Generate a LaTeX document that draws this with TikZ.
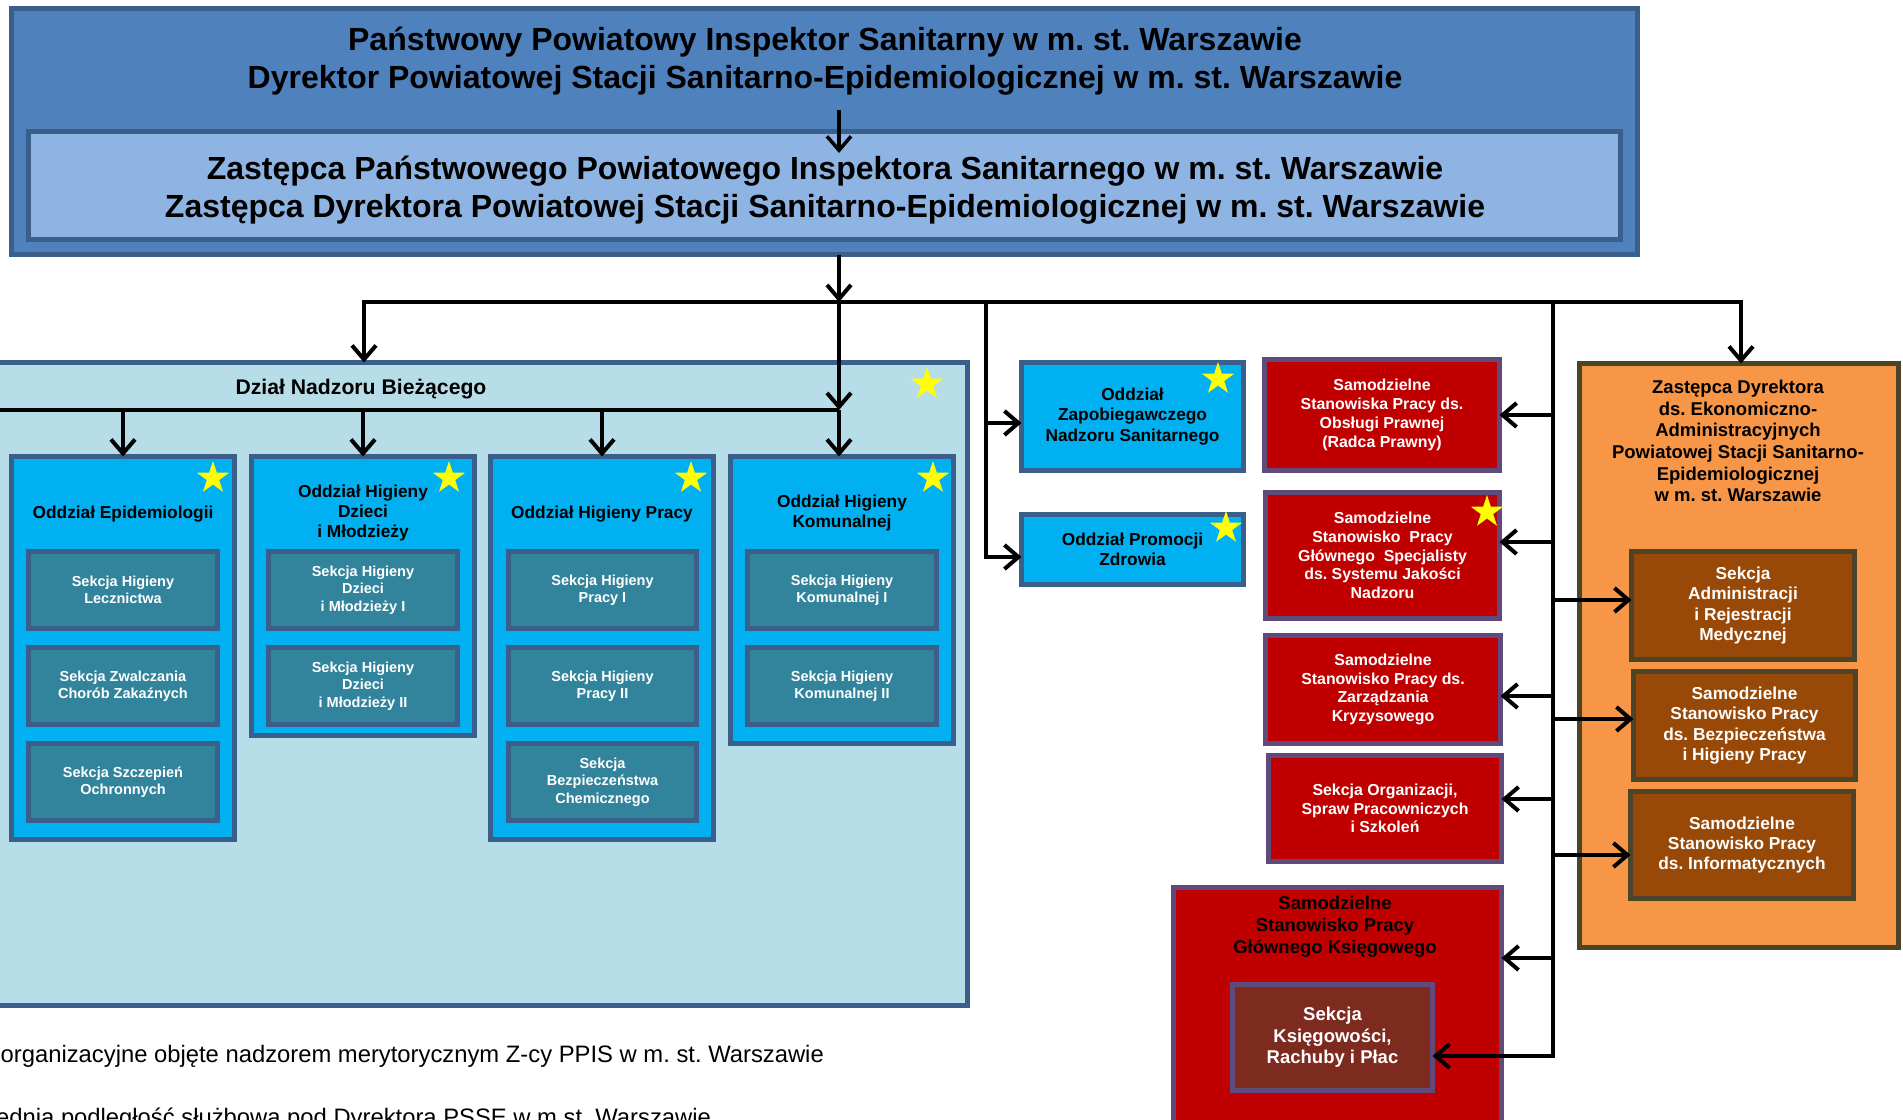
\documentclass[tikz,border=0pt]{standalone}
\usepackage{fontspec}
\setmainfont{Liberation Sans}
\usetikzlibrary{arrows.meta,shapes.geometric}
\frenchspacing
\definecolor{topblue}{HTML}{4F81BD}
\definecolor{bordblue}{HTML}{3A5F8B}
\definecolor{lightblue}{HTML}{8EB4E3}
\definecolor{dzialbg}{HTML}{B7DEE8}
\definecolor{oddblue}{HTML}{00B0F0}
\definecolor{sekteal}{HTML}{31849B}
\definecolor{redbox}{HTML}{C00000}
\definecolor{purp}{HTML}{604A7B}
\definecolor{ksbrown}{HTML}{7D2A1F}
\definecolor{orng}{HTML}{F79646}
\definecolor{olive}{HTML}{4A4429}
\definecolor{brownbx}{HTML}{984807}
\definecolor{staryel}{HTML}{FFFF00}
\newcommand\obox[7]{\node[#6, minimum width={#4-#2-5}, minimum height={#5-#3-5}] (#1) at ({(#2+#4)/2},{(#3+#5)/2}) {#7};}
\begin{document}
\frenchspacing
\begin{tikzpicture}[x=1pt,y=-1pt,
  conn/.style={line width=4pt},
  barb/.tip={Straight Barb[length=14pt,width=24pt]},
  arr/.style={conn,-barb},
  arrtwo/.style={conn,barb-barb},
  bx/.style={draw,line width=5pt,inner sep=0pt,outer sep=0pt,align=center},
  ftitle/.style={align=center,inner sep=0pt,font=\fontsize{32}{38.5}\selectfont\bfseries},
  fdz/.style={inner sep=0pt,font=\fontsize{21.2}{25}\selectfont\bfseries},
  fodd/.style={align=center,inner sep=0pt,font=\fontsize{17.3}{19.7}\selectfont\bfseries},
  oddbx/.style={bx,draw=bordblue,fill=oddblue,font=\fontsize{17.3}{20.5}\selectfont\bfseries},
  sekbx/.style={bx,draw=bordblue,fill=sekteal,text=white,font=\fontsize{14.5}{17.5}\selectfont\bfseries},
  redbx/.style={bx,draw=purp,fill=redbox,text=white,font=\fontsize{15.9}{18.8}\selectfont\bfseries},
  ksbx/.style={bx,draw=purp,fill=ksbrown,text=white,font=\fontsize{18.5}{21.5}\selectfont\bfseries},
  brbx/.style={bx,draw=olive,fill=brownbx,text=white,font=\fontsize{17.3}{20.3}\selectfont\bfseries},
  fbig/.style={align=center,inner sep=0pt,font=\fontsize{18.5}{22}\selectfont\bfseries},
  forng/.style={align=center,inner sep=0pt,font=\fontsize{18.5}{21.7}\selectfont\bfseries},
  ffoot/.style={inner sep=0pt,font=\fontsize{23.8}{28}\selectfont},
  starn/.style={star,star points=5,star point ratio=2.6,fill=staryel,minimum size=34pt,inner sep=0pt}
]
\fill[white] (0,0) rectangle (1903,1119);
\useasboundingbox (0,0) rectangle (1903,1119);
\clip (0,0) rectangle (1903,1119);

% top
\obox{top}{9}{6}{1640}{257}{bx,draw=bordblue,fill=topblue}{}
\obox{zast}{26}{129}{1623}{242}{bx,draw=bordblue,fill=lightblue}{}
\node[ftitle] (toptxt) at (825,61) {Państwowy Powiatowy Inspektor Sanitarny w m. st. Warszawie\\Dyrektor Powiatowej Stacji Sanitarno-Epidemiologicznej w m. st. Warszawie};
\node[ftitle] (zasttxt) at (825,190) {Zastępca Państwowego Powiatowego Inspektora Sanitarnego w m. st. Warszawie\\Zastępca Dyrektora Powiatowej Stacji Sanitarno-Epidemiologicznej w m. st. Warszawie};
\coordinate (t0) at (839,110);
\coordinate (t1) at (839,153);
\draw[arr,line width=3.5pt] (t0) -- (t1);

% Dzial
\obox{dzial}{-20}{360}{970}{1008}{bx,draw=bordblue,fill=dzialbg}{}
\node[fdz] (dzialtxt) at (361,389) {Dział Nadzoru Bieżącego};
\node[starn] (s0) at (927,384) {};

\obox{epi}{9}{454}{237}{842}{oddbx}{}
\node[fodd] (epit) at (123,514) {Oddział Epidemiologii};
\obox{epi1}{26}{549}{220}{631}{sekbx}{Sekcja Higieny\\Lecznictwa}
\obox{epi2}{26}{645}{220}{727}{sekbx}{Sekcja Zwalczania\\Chorób Zakaźnych}
\obox{epi3}{26}{741}{220}{823}{sekbx}{Sekcja Szczepień\\Ochronnych}
\node[starn] (s1) at (213,478) {};

\obox{dzi}{249}{454}{477}{738}{oddbx}{}
\node[fodd] (dzit) at (363,513) {Oddział Higieny\\Dzieci\\i Młodzieży};
\obox{dzi1}{266}{549}{460}{631}{sekbx}{Sekcja Higieny\\Dzieci\\i Młodzieży I}
\obox{dzi2}{266}{645}{460}{727}{sekbx}{Sekcja Higieny\\Dzieci\\i Młodzieży II}
\node[starn] (s2) at (449,478) {};

\obox{pra}{488}{454}{716}{842}{oddbx}{}
\node[fodd] (prat) at (602,514) {Oddział Higieny Pracy};
\obox{pra1}{506}{549}{699}{631}{sekbx}{Sekcja Higieny\\Pracy I}
\obox{pra2}{506}{645}{699}{727}{sekbx}{Sekcja Higieny\\Pracy II}
\obox{pra3}{506}{741}{699}{823}{sekbx}{Sekcja\\Bezpieczeństwa\\Chemicznego}
\node[starn] (s3) at (691,478) {};

\obox{kom}{728}{454}{956}{746}{oddbx}{}
\node[fodd] (komt) at (842,513) {Oddział Higieny\\Komunalnej};
\obox{kom1}{745}{549}{939}{631}{sekbx}{Sekcja Higieny\\Komunalnej I}
\obox{kom2}{745}{645}{939}{727}{sekbx}{Sekcja Higieny\\Komunalnej II}
\node[starn] (s4) at (933,478) {};

% middle
\obox{zap}{1019}{360}{1246}{473}{oddbx}{Oddział\\Zapobiegawczego\\Nadzoru Sanitarnego}
\node[starn] (s5) at (1218,379) {};
\obox{prom}{1019}{512}{1246}{587}{oddbx}{Oddział Promocji\\Zdrowia}
\node[starn] (s6) at (1226,528) {};

% red
\obox{r1}{1262}{357}{1502}{473}{redbx}{Samodzielne\\Stanowiska Pracy ds.\\Obsługi Prawnej\\(Radca Prawny)}
\obox{r2}{1263}{490}{1502}{621}{redbx}{Samodzielne\\Stanowisko\ \ Pracy\\Głównego\ \ Specjalisty\\ds. Systemu Jakości\\Nadzoru}
\node[starn] (s7) at (1487,512) {};
\obox{r3}{1263}{633}{1503}{746}{redbx}{Samodzielne\\Stanowisko Pracy ds.\\Zarządzania\\Kryzysowego}
\obox{r4}{1266}{753}{1504}{864}{redbx}{Sekcja Organizacji,\\Spraw Pracowniczych\\i Szkoleń}
\obox{big}{1171}{885}{1504}{1135}{bx,draw=purp,fill=redbox}{}
\node[fbig] (bigt) at (1335,927) {Samodzielne\\Stanowisko Pracy\\Głównego Księgowego};
\obox{ks}{1230}{982}{1435}{1093}{ksbx}{Sekcja\\Księgowości,\\Rachuby i Płac}

% orange
\obox{ozd}{1577}{361}{1901}{950}{bx,draw=olive,fill=orng}{}
\node[forng] (ozdt) at (1738,441) {Zastępca Dyrektora\\ds. Ekonomiczno-\\Administracyjnych\\Powiatowej Stacji Sanitarno-\\Epidemiologicznej\\w m. st. Warszawie};
\obox{b1}{1629}{549}{1857}{662}{brbx}{Sekcja\\Administracji\\i Rejestracji\\Medycznej}
\obox{b2}{1631}{669}{1858}{782}{brbx}{Samodzielne\\Stanowisko Pracy\\ds. Bezpieczeństwa\\i Higieny Pracy}
\obox{b3}{1628}{789}{1856}{901}{brbx}{Samodzielne\\Stanowisko Pracy\\ds. Informatycznych}

% footnotes
\node[ffoot,anchor=base west] (fn1) at (0.5,1062) {organizacyjne objęte nadzorem merytorycznym Z-cy PPIS w m. st. Warszawie};
\node[ffoot,anchor=base west] (fn2) at (-4,1125) {ednia podległość służbowa pod Dyrektora PSSE w m.st. Warszawie};

% connectors
\coordinate (bL) at (364,302);
\coordinate (b0) at (839,302);
\coordinate (bM) at (986,302);
\coordinate (bR) at (1553,302);
\coordinate (bO) at (1741,302);
\coordinate (d0) at (839,410);
\coordinate (dL) at (-10,410);

\draw[arr] (b0 |- top.south) -- (b0);
\draw[arrtwo] (bL |- dzial.north) -- (bL) -- (bO) -- (bO |- ozd.north);
\draw[arr] (b0) -- (d0);
\draw[arr] (d0) -- (d0 |- kom.north);
\draw[conn] (dL) -- (d0);
\draw[arr] (dL -| epi.north) -- (epi.north);
\draw[arr] (dL -| dzi.north) -- (dzi.north);
\draw[arr] (dL -| pra.north) -- (pra.north);

\coordinate (zapa) at ([yshift=-6.5pt]zap.west);
\coordinate (proma) at ([yshift=-7.5pt]prom.west);
\draw[arr] (bM |- zapa) -- (zapa);
\draw[arr] (bM) |- (proma);

\coordinate (r1a) at (r1.east);
\coordinate (r2a) at ([yshift=13.5pt]r2.east);
\coordinate (r3a) at ([yshift=-6.5pt]r3.east);
\coordinate (r4a) at ([yshift=9.5pt]r4.east);
\coordinate (biga) at ([yshift=52pt]big.east);
\coordinate (ksa) at ([yshift=-18.5pt]ks.east);
\coordinate (b1a) at ([yshift=5.5pt]b1.west);
\coordinate (b2a) at ([yshift=6.5pt]b2.west);
\coordinate (b3a) at ([yshift=-10pt]b3.west);
\draw[arr] (bR) |- (ksa);
\foreach \p in {r1a,r2a,r3a,r4a,biga,b1a,b2a,b3a} \draw[arr] (bR |- \p) -- (\p);
\end{tikzpicture}
\end{document}
